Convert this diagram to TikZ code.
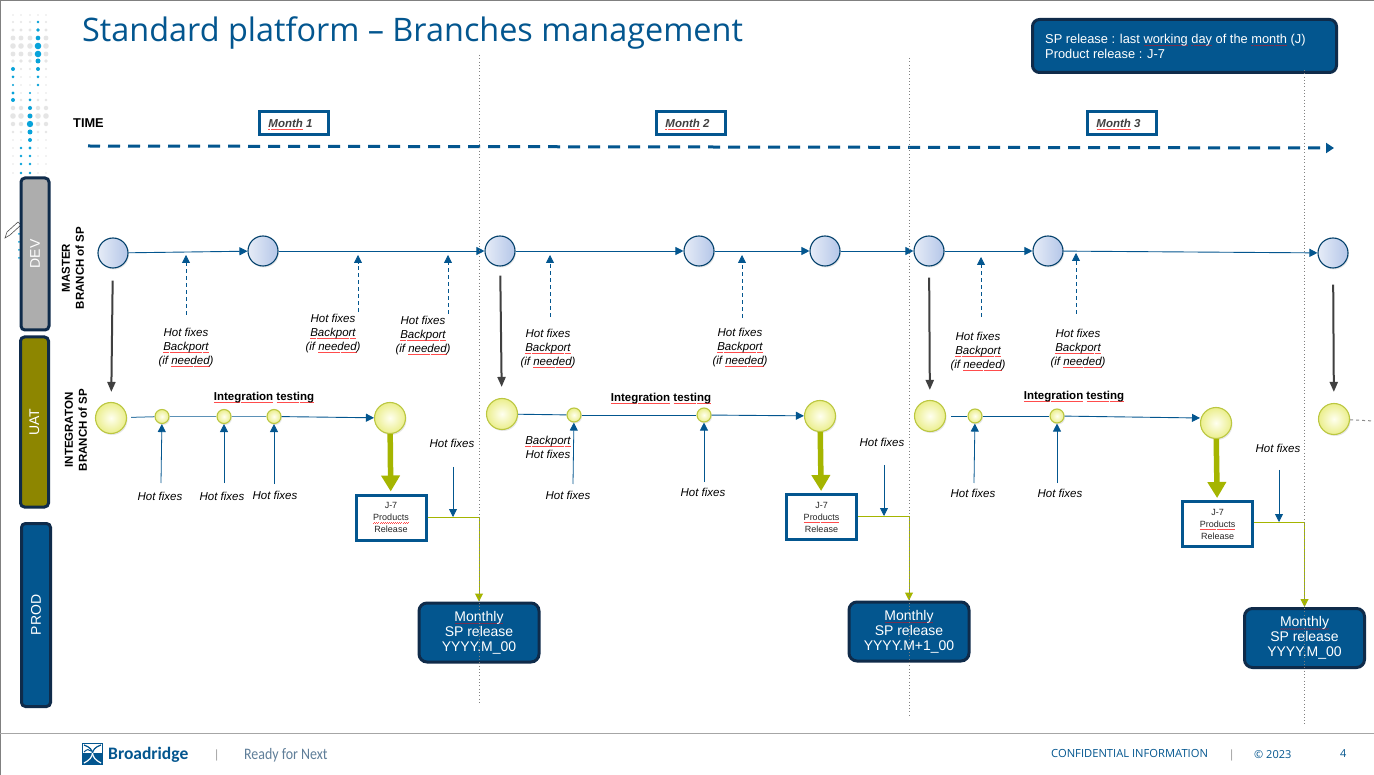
\documentclass[tikz,border=0pt]{standalone}
\usepackage{fontspec}
\setmainfont{Liberation Sans}
\newfontfamily\titlefont{Open Sans}
\newfontfamily\brandfont{Carlito}
\usepackage{xcolor}
\usetikzlibrary{arrows.meta,shadows}
\definecolor{navy}{HTML}{03568F}
\definecolor{inkline}{HTML}{0F2B4A}
\definecolor{lime}{HTML}{A5B500}
\definecolor{dotblue}{HTML}{08A3DA}
\definecolor{tagline}{HTML}{5F7E99}
\definecolor{masterleft}{HTML}{E6ECF7}
\definecolor{masterright}{HTML}{B4C6E8}
\newcommand{\sqcol}{red!70!white}
\newcommand{\sq}[1]{\leavevmode\setbox0\hbox{#1}\rlap{\raisebox{-2.4pt}[0pt][0pt]{\color{\sqcol}\hbox to \wd0{\xleaders\hbox{\rule{1pt}{.4pt}\rule[.55pt]{1pt}{.4pt}}\hfill}}}\box0\relax}
\tikzset{
  lane/.style={draw=inkline,line width=3pt,rounded corners=4pt,text=white,rotate=90,font=\fontsize{14}{16}\selectfont,inner sep=0pt},
  monthbox/.style={draw=navy,line width=3pt,minimum width=69pt,minimum height=23pt,inner sep=0pt,font=\fontsize{11.5}{13}\selectfont\bfseries\itshape,text=black!75},
  masternode/.style={circle,draw=navy!75!black,line width=1.1pt,minimum size=30pt,inner sep=0pt,left color=masterleft,right color=masterright,drop shadow={shadow xshift=1pt,shadow yshift=-1.5pt,fill=black!30,opacity=.3}},
  bignode/.style={circle,draw=lime!75!white,line width=1.1pt,minimum size=31pt,inner sep=0pt,inner color=yellow!6!white,outer color=yellow!50!lime!45!white,drop shadow={shadow xshift=1pt,shadow yshift=-1.5pt,fill=black!30,opacity=.3}},
  smallnode/.style={bignode,minimum size=14pt},
  fixlabel/.style={align=center,font=\fontsize{11.5}{14}\selectfont\itshape,inner sep=0pt},
  sidelabel/.style={align=center,rotate=90,font=\fontsize{11.5}{14}\selectfont\bfseries,inner sep=0pt},
  testlabel/.style={font=\fontsize{11.5}{13}\selectfont\bfseries,inner sep=0pt},
  relbox/.style={draw=navy,line width=3pt,minimum width=70pt,minimum height=45pt,inner sep=0pt,align=center,font=\fontsize{9}{12}\selectfont,text=black!85},
  monthly/.style={fill=navy,draw=inkline,line width=3pt,rounded corners=8pt,minimum width=120pt,minimum height=59pt,inner sep=0pt,align=center,text=white,font=\fontsize{14}{15}\selectfont\renewcommand{\sqcol}{red!45!navy}},
  flow/.style={navy,line width=0.9pt,-{Triangle[length=8pt,width=8pt]}},
  fixarrow/.style={navy,line width=0.8pt,-{Triangle[length=8pt,width=8pt]}},
  backarrow/.style={fixarrow,dash pattern=on 4pt off 3pt},
  mergearrow/.style={black!75,line width=2pt,-{Triangle[length=10pt,width=8pt]}},
  freeze/.style={lime,line width=5.5pt,-{Triangle[length=16pt,width=18pt]}},
  shipline/.style={lime,line width=1pt,-{Triangle[length=8pt,width=8pt]}},
  monthline/.style={black!50,line width=0.7pt,dash pattern=on 0.7pt off 2.6pt}
}
\begin{document}
\begin{tikzpicture}[x=1pt,y=-1pt]
\useasboundingbox (0,0) rectangle (1374,775);
\fill[white] (0,0) rectangle (1374,775);
\draw[black!50,line width=1.5pt] (0,0.5) -- (1374,0.5);
\draw[black!50,line width=1pt] (0.5,0) -- (0.5,775);
\draw[black!35,line width=1pt] (0,733) -- (1374,733);

\foreach \x in {13,21,30,38,46}{
  \foreach \y in {15,22,30,38,46,54,61,69,77,85,93,100,108,116,124,132,140,148,156,164,173}{
    \pgfmathsetmacro{\r}{0.8+2*exp(-((\y-46)/18)^2)+2*exp(-((\y-116)/14)^2)}
    \fill[black!10] (\x,\y) circle (\r pt);
  }
}
\foreach \x/\y/\r in {38/22/1.4,38/30/1.8,38/38/2.3,38/46/3.3,38/54/3.3,38/61/2.5,38/69/2,38/77/1.5,38/85/1.3,
  13/69/2,13/77/1.5,13/85/1.2,13/93/1.7,13/100/2,
  30/93/1.2,30/100/1.5,30/108/2,30/116/2.4,30/124/3.2,30/132/2.5,30/140/2,30/148/1.6,30/156/1.4,30/164/1.3,30/173/1.3,
  21/148/1.3,21/156/1.3,21/164/1.3,21/173/1.3,19/234/1,19/242/1,19/250/1,19/258/1}{
  \fill[dotblue] (\x,\y) circle (\r pt);
}
\draw[black!70,fill=white,line width=0.6pt] (5,238) -- (7,232) -- (18,222) -- (21,225) -- (10,235) -- cycle;

\node[anchor=base west,inner sep=0pt,text=navy,font=\fontsize{32.4}{36}\selectfont\titlefont] (title) at (82,42) {Standard platform – Branches management};

\node[lane,fill=black!32,minimum width=152pt,minimum height=28pt] (dev) at (35,254) {DEV};
\node[lane,fill=olive!100!black,minimum width=170pt,minimum height=28pt] (uat) at (34.5,422) {UAT};
\node[lane,fill=navy,minimum width=183pt,minimum height=29pt] (prod) at (36,615) {PROD};

\node[fill=navy,draw=inkline,line width=3pt,rounded corners=7pt,minimum width=304pt,minimum height=53pt,inner sep=0pt] (note) at (1184.5,46) {};
\node[anchor=west,inner sep=0pt,align=left,text=white,font=\fontsize{12.85}{15}\selectfont\renewcommand{\sqcol}{red!45!navy}] (notetext) at (1045,46) {SP release : last \sq{working} \sq{day} of the \sq{month} (J)\\Product release : J-7};

\node[anchor=west,inner sep=0pt,font=\fontsize{12.8}{14}\selectfont\bfseries] (time) at (73,123) {TIME};
\foreach \n/\x in {1/293.5,2/690.5,3/1121.5}{
  \node[monthbox] (month\n) at (\x,123) {\kern-6pt\sq{Month} \n};
}
\coordinate (ta) at (88,146);
\coordinate (tb) at (1334,148);
\draw[navy,line width=3pt,dash pattern=on 12pt off 8pt,-{Triangle[length=8pt,width=10pt]}] (ta) -- (tb);

\node[sidelabel] (masterlabel) at (73,268) {MASTER\\BRANCH of SP};
\node[sidelabel] (integlabel) at (76,430) {INTEGRATON\\BRANCH of SP};

\foreach \n/\x/\y in {1/113/253,2/263/251,3/500/251,4/699/251,5/825/251,6/929/251,7/1048/251,8/1333/253}{
  \node[masternode] (m\n) at (\x,\y) {};
}
\foreach \a/\b in {1/2,2/3,3/4,4/5,5/6,6/7,7/8}{
  \draw[flow] (m\a) -- (m\b);
}

\foreach \n/\x/\y in {1/111/418,2/390/418,3/502/414,4/820/416,5/930/416,6/1216/423,7/1334/419}{
  \node[bignode] (i\n) at (\x,\y) {};
}
\foreach \n/\x/\y in {1/162/416.5,2/224/416.5,3/274/416.5,4/574/415,5/704/415,6/975/416,7/1057/416}{
  \node[smallnode] (s\n) at (\x,\y) {};
}
\draw[navy!75!white,line width=1pt,shorten <=4pt] (i1) -- (s1);
\draw[navy!65!white,line width=1pt] (s1) -- (s2);
\draw[navy!65!white,line width=1pt] (s2) -- (s3);
\draw[flow] (s3) -- (i2);
\draw[navy,line width=0.9pt] (i3) -- (s4);
\draw[navy,line width=0.9pt] (s4) -- (s5);
\draw[flow] (s5) -- (i4);
\draw[navy,line width=0.9pt,shorten <=5pt] (i5) -- (s6);
\draw[navy,line width=0.9pt] (s6) -- (s7);
\coordinate (i6in) at (1200,418);
\draw[flow] (s7) -- (i6in);
\coordinate (iend) at (1374,421);
\draw[black!45,line width=1pt,dashed] (i7) -- (iend);

\draw[mergearrow,shorten <=12pt,shorten >=10pt] (m1) -- (i1);
\draw[mergearrow,shorten <=9pt,shorten >=11pt] (m3) -- (i3);
\draw[mergearrow,shorten <=11pt,shorten >=10pt] (m6) -- (i5);
\draw[mergearrow,shorten <=16pt,shorten >=11pt] (m8) -- (i7);

\foreach \n/\x/\y/\ax/\atop/\abot in {1/186/347.5/186/255/315,2/333/333.5/358/255/312,3/423/335.5/448/255/314,4/548/348.5/550/255/317,5/740/347.5/742/255/318,6/978/351.5/981/257/317,7/1078/348.5/1076/253/314}{
  \node[fixlabel] (bp\n) at (\x,\y) {Hot fixes\\\sq{Backport}\\(if \sq{needed})};
  \coordinate (bpa\n) at (\ax,\abot);
  \coordinate (bpb\n) at (\ax,\atop);
  \draw[backarrow] (bpa\n) -- (bpb\n);
}

\foreach \n/\x/\y/\ax/\ay in {1/160/496/161/483,2/222/496/224/483,3/275/495/274/484,4/568/495/573/484,5/703/492/704/482,6/973/493/974/483,7/1060/493/1057/483}{
  \node[fixlabel] (hf\n) at (\x,\y) {Hot fixes};
  \coordinate (hfa\n) at (\ax,\ay);
  \draw[fixarrow] (hfa\n) -- (s\n);
}
\node[fixlabel] (bh) at (548,447) {\sq{Backport}\\Hot fixes};

\foreach \x/\y in {264/397.5,661/398.5,1074/396.5}{
  \node[testlabel] (it\x) at (\x,\y) {\sq{Integration} \sq{testing}};
}

\coordinate (lfa1) at (453,467); \coordinate (lfb1) at (453,517);
\coordinate (lfa2) at (884,465); \coordinate (lfb2) at (884,516);
\coordinate (lfa3) at (1279,470); \coordinate (lfb3) at (1279,522);

\foreach \n/\x/\y/\k/\lx/\ly in {1/391/517.5/2/452/443,2/821.5/517/4/882/442,3/1217.5/524/6/1278/448}{
  \node[relbox] (rel\n) at (\x,\y) {J-7\\\sq{Products}\\Release};
  \draw[freeze,shorten >=2pt] (i\k) -- (rel\n);
  \node[fixlabel] (lf\n) at (\lx,\ly) {Hot fixes};
}
\node[monthly] (rel1m) at (479,632.5) {\sq{Monthly}\\SP release\\YYYY.M\_00};
\node[monthly] (rel2m) at (909,631.5) {\sq{Monthly}\\SP release\\YYYY.M+1\_00};
\node[monthly] (rel3m) at (1304.5,638) {\sq{Monthly}\\SP release\\YYYY.M\_00};
\foreach \n in {1,2,3}{
  \draw[shipline] (lfb\n -| rel\n.east) -| (rel\n m.north);
  \draw[fixarrow] (lfa\n) -- (lfb\n);
}

\foreach \x/\a/\b in {479/55/705,909/58/717,1304/70/725}{
  \coordinate (mt\x) at (\x,\a);
  \coordinate (mb\x) at (\x,\b);
  \draw[monthline] (mt\x) -- (mb\x);
}

\draw[navy,line width=0.8pt] (82.5,743.5) rectangle (102,764);
\fill[navy] (82,753) rectangle (102,764);
\draw[navy,line width=1.2pt] (84,745) .. controls (90,747) and (92,750) .. (92.5,753);
\draw[navy,line width=1.2pt] (101,745) .. controls (95,747) and (93,750) .. (92.5,753);
\draw[navy,line width=1pt] (84,752) .. controls (87,749) and (89,749) .. (91,751);
\draw[white,line width=1.2pt] (84,763) .. controls (90,760) and (92,757) .. (92.5,753);
\draw[white,line width=1.2pt] (101,763) .. controls (95,760) and (93,757) .. (92.5,753);
\node[anchor=base west,inner sep=0pt,text=navy,font=\fontsize{17.5}{20}\selectfont\brandfont\bfseries] (brand) at (108,759) {Broadridge};
\node[anchor=base west,inner sep=0pt,text=black!35,font=\fontsize{12}{14}\selectfont] (sepa) at (215,758) {|};
\node[anchor=base west,inner sep=0pt,text=tagline,xscale=.87,font=\fontsize{16}{18}\selectfont\brandfont] (tag) at (244,759) {Ready for Next};
\node[anchor=base west,inner sep=0pt,text=navy,font=\fontsize{11.2}{12}\selectfont\titlefont] (conf) at (1051,757) {CONFIDENTIAL INFORMATION};
\node[anchor=base west,inner sep=0pt,text=black!35,font=\fontsize{12}{14}\selectfont] (sepb) at (1230,758) {|};
\node[anchor=base west,inner sep=0pt,text=navy,font=\fontsize{11}{13}\selectfont\titlefont] (year) at (1254,758) {\textcopyright{} 2023};
\node[anchor=base west,inner sep=0pt,text=navy,font=\fontsize{11}{13}\selectfont\titlefont] (page) at (1340,757) {4};
\end{tikzpicture}
\end{document}
